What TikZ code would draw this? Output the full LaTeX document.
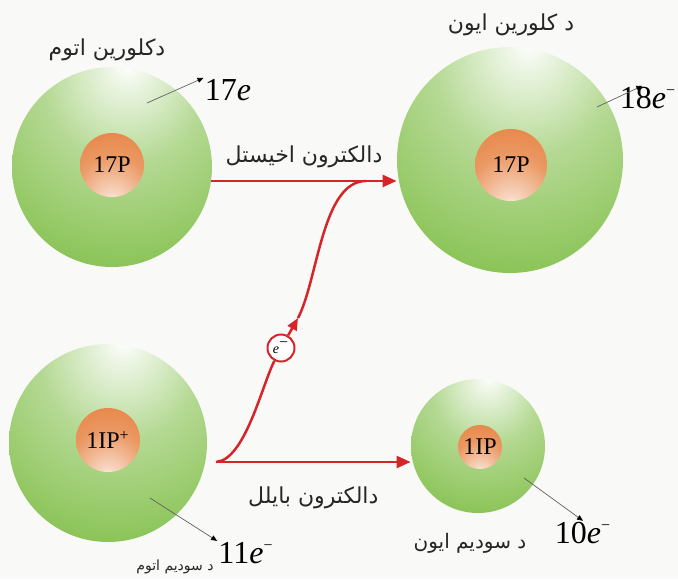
\documentclass[tikz,border=0pt]{standalone}
\usepackage{fontspec}
\setmainfont{Liberation Serif}
\newfontfamily\arabicfont[Script=Arabic]{DejaVu Sans}
\usepackage{tikz}
\usetikzlibrary{arrows.meta}
\TeXXeTstate=1
\definecolor{ballgreen}{RGB}{120,186,60}
\definecolor{nucorange}{RGB}{228,118,48}
\definecolor{arrowred}{RGB}{214,36,40}
\definecolor{paper}{RGB}{249,250,248}
\pgfdeclareradialshading{greenball}{\pgfpoint{4bp}{26bp}}{%
  color(0bp)=(white); color(5bp)=(white!85!ballgreen);
  color(20bp)=(ballgreen!55!white); color(40bp)=(ballgreen!85!white);
  color(62bp)=(ballgreen); color(100bp)=(ballgreen)}
\pgfdeclareradialshading{orangeball}{\pgfpoint{0bp}{-32bp}}{%
  color(0bp)=(white); color(8bp)=(nucorange!30!white);
  color(30bp)=(nucorange!75!white); color(60bp)=(nucorange);
  color(100bp)=(nucorange)}
\newcommand\pashto[1]{{\arabicfont\beginR #1\endR}}
\newcommand\sups[1]{\textsuperscript{\fontsize{8}{8}\selectfont #1}}

\begin{document}
\begin{tikzpicture}[x=0.5pt,y=-0.5pt,
  atom/.style={circle, shade, shading=greenball, inner sep=0pt},
  nucleus/.style={circle, shade, shading=orangeball, inner sep=0pt,
    font=\fontsize{12}{12}\selectfont},
  electron/.style={circle, draw=arrowred, line width=1pt, fill=white,
    minimum size=13.5pt, inner sep=0pt, font=\fontsize{7}{7}\selectfont},
  redline/.style={arrowred, line width=1.25pt},
  arrow/.style={redline, -{Triangle[length=7pt,width=6pt]}},
  pointer/.style={gray!75!black, line width=0.35pt,
    -{Triangle[length=3pt,width=2.5pt,black]}},
  charge/.style={font=\fontsize{16}{16}\selectfont, inner sep=0.5pt},
  pstext/.style={font=\arabicfont\fontsize{11}{13}\selectfont,
    text=black!85, inner sep=1pt}
]
\fill[paper] (0,0) rectangle (678,579);
\useasboundingbox (0,0) rectangle (678,579);

% atoms and ions
\node[atom, minimum size=100pt] (cla) at (112,167) {};
\node[nucleus, minimum size=32pt] (clan) at (112,165) {17P};
\node[atom, minimum size=113pt] (cli) at (510,160) {};
\node[nucleus, minimum size=36pt] (clin) at (511,165) {17P};
\node[atom, minimum size=99pt] (naa) at (108,443) {};
\node[nucleus, minimum size=32pt] (naan) at (108,440) {1IP\sups{+}};
\node[atom, minimum size=67pt] (nai) at (478,446) {};
\node[nucleus, minimum size=22pt] (nain) at (480,447) {1IP};

% names
\node[pstext] (clat) at (107,50) {\pashto{دکلورین اتوم}};
\node[pstext] (clit) at (511,25) {\pashto{د کلورین ایون}};
\node[pstext, font=\arabicfont\fontsize{7}{9}\selectfont] (naat) at (175,567) {\pashto{د سودیم اتوم}};
\node[pstext, font=\arabicfont\fontsize{10}{12}\selectfont] (nait) at (470,543) {\pashto{د سودیم ایون}};

% electron counts
\node[charge] (n17) at (228,90) {17\textit{e}};
\node[charge] (n18) at (648,98) {18\textit{e}\sups{−}};
\node[charge] (n11) at (246,553) {11\textit{e}\sups{−}};
\node[charge] (n10) at (583,533) {10\textit{e}\sups{−}};
\coordinate (p17) at (147,103);
\coordinate (p18) at (597,107);
\coordinate (p11) at (150,498);
\coordinate (p10) at (524,478);
\draw[pointer] (p17) -- (n17.north west);
\draw[pointer] (p18) -- (n18.115);
\draw[pointer] (p11) -- (n11.north west);
\draw[pointer] (p10) -- (n10.north);

% electron transfer
\coordinate (split) at (216,462);
\coordinate (join) at (366,181);
\coordinate (tip) at (298,318);
\node[electron] (el) at (281,348) {\textit{e}\sups{−}};
\draw[arrow] (cla.-8) -- (cla.-8 -| cli.west)
  node[pstext, midway, above=5pt] (gain) {\pashto{دالکترون اخیستل}};
\draw[arrow] (split) -- (split -| nai.west)
  node[pstext, midway, below=11pt] (lose) {\pashto{دالکترون بایلل}};
\draw[redline] (split) .. controls (245,460) and (262,385) .. (el);
\draw[redline, -{Triangle[length=6pt,width=5pt]}] (el) -- (tip);
\draw[redline] (tip) .. controls (318,280) and (322,181) .. (join);
\end{tikzpicture}
\end{document}
